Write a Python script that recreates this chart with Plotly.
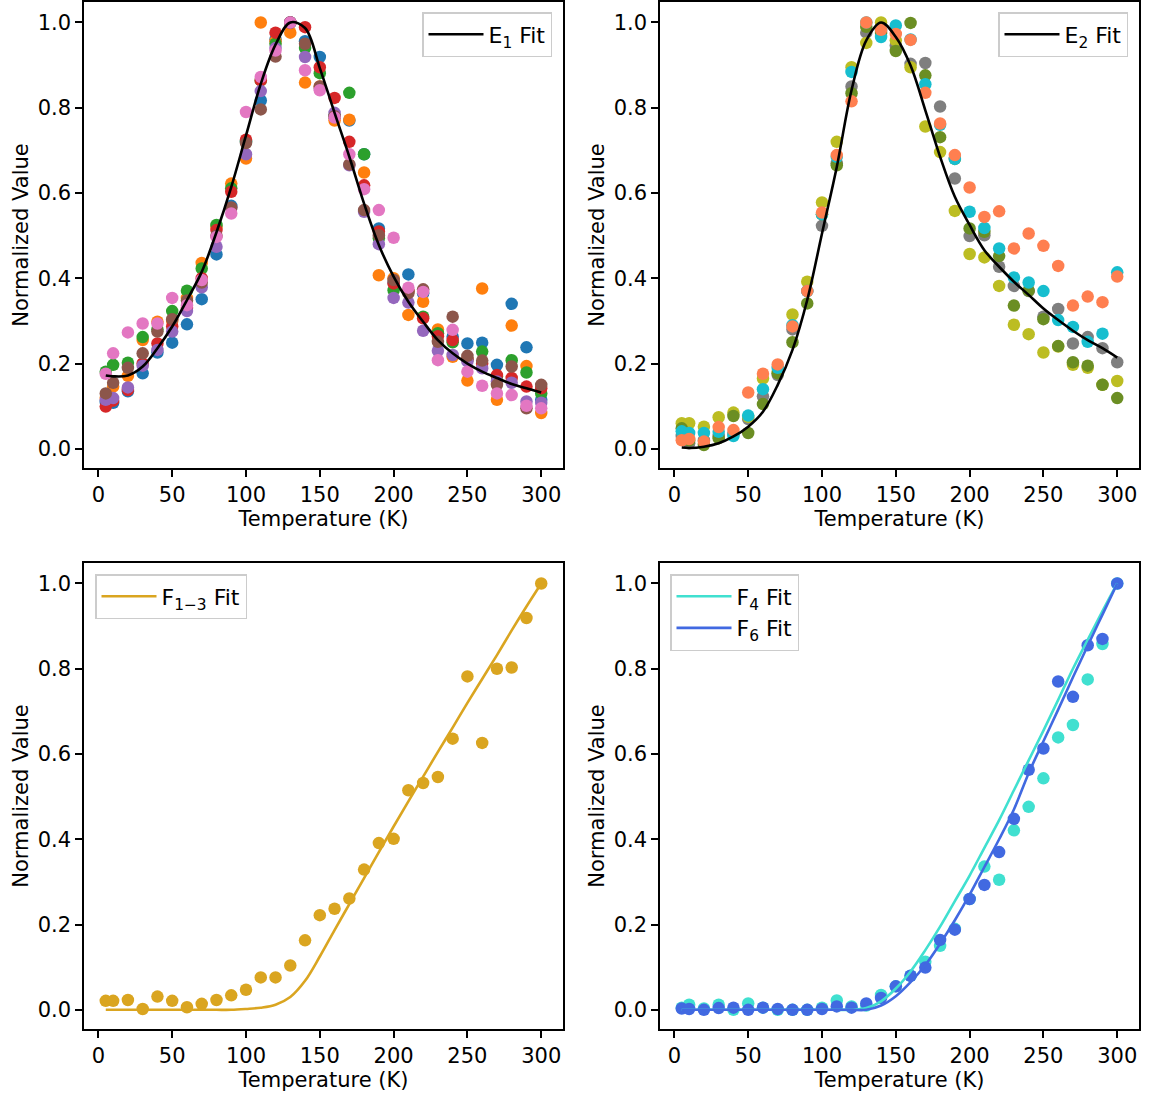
import plotly.graph_objects as go

# ---------------- data ----------------
T = [5, 10, 20, 30, 40, 50, 60, 70, 80, 90, 100, 110, 120, 130, 140, 150,
     160, 170, 180, 190, 200, 210, 220, 230, 240, 250, 260, 270, 280, 290, 300]

# Panel 1 (E1) series
e1_blue = [0.11, 0.108, 0.135, 0.177, 0.226, 0.249, 0.292, 0.351, 0.456, 0.57, 0.72, 0.817, 0.96, 1.0, 0.956, 0.919,
           0.78, 0.77, 0.691, 0.517, 0.39, 0.409, 0.365, 0.27, 0.263, 0.247, 0.249, 0.197, 0.34, 0.238, 0.115]
e1_orange = [0.12, 0.146, 0.171, 0.255, 0.298, 0.30, 0.354, 0.436, 0.52, 0.622, 0.681, 1.0, 0.956, 0.976, 0.859, 0.85,
             0.77, 0.772, 0.648, 0.407, 0.40, 0.314, 0.345, 0.28, 0.216, 0.16, 0.376, 0.115, 0.289, 0.194, 0.084]
e1_green = [0.181, 0.197, 0.202, 0.262, 0.28, 0.323, 0.371, 0.423, 0.525, 0.611, 0.72, 0.864, 0.95, 1.0, 0.94, 0.881,
            0.78, 0.835, 0.691, 0.494, 0.372, 0.37, 0.31, 0.271, 0.25, 0.21, 0.228, 0.17, 0.208, 0.179, 0.13]
e1_red = [0.099, 0.113, 0.138, 0.2, 0.247, 0.287, 0.33, 0.40, 0.513, 0.603, 0.725, 0.864, 0.976, 1.0, 0.989, 0.895,
          0.823, 0.72, 0.618, 0.51, 0.388, 0.37, 0.306, 0.264, 0.255, 0.21, 0.2, 0.173, 0.166, 0.146, 0.142]
e1_purple = [0.115, 0.119, 0.144, 0.195, 0.232, 0.275, 0.323, 0.379, 0.474, 0.565, 0.691, 0.839, 0.94, 1.0, 0.919, 0.845,
             0.788, 0.665, 0.556, 0.48, 0.354, 0.343, 0.277, 0.23, 0.22, 0.205, 0.189, 0.158, 0.155, 0.111, 0.108]
e1_brown = [0.13, 0.155, 0.19, 0.224, 0.275, 0.304, 0.348, 0.39, 0.50, 0.566, 0.717, 0.796, 0.92, 1.0, 0.95, 0.85,
            0.78, 0.667, 0.56, 0.501, 0.396, 0.365, 0.374, 0.251, 0.31, 0.218, 0.207, 0.15, 0.193, 0.095, 0.15]
e1_pink = [0.176, 0.224, 0.273, 0.294, 0.294, 0.354, 0.337, 0.396, 0.497, 0.552, 0.79, 0.872, 0.934, 1.0, 0.888, 0.841,
           0.777, 0.691, 0.609, 0.56, 0.495, 0.378, 0.368, 0.208, 0.279, 0.181, 0.148, 0.13, 0.126, 0.101, 0.095]

# Panel 2 (E2) series
e2_gray = [0.03, 0.013, 0.02, 0.03, 0.035, 0.07, 0.123, 0.173, 0.28, 0.37, 0.523, 0.67, 0.85, 0.976, 0.98, 0.946,
           0.903, 0.905, 0.803, 0.634, 0.499, 0.501, 0.427, 0.382, 0.37, 0.31, 0.328, 0.247, 0.262, 0.236, 0.203]
e2_olive = [0.06, 0.06, 0.052, 0.074, 0.085, 0.075, 0.165, 0.18, 0.315, 0.392, 0.578, 0.72, 0.895, 0.952, 1.0, 0.958,
            0.895, 0.756, 0.696, 0.558, 0.457, 0.449, 0.382, 0.291, 0.269, 0.226, 0.24, 0.197, 0.19, 0.15, 0.159]
e2_olivedrab = [0.048, 0.02, 0.009, 0.025, 0.077, 0.037, 0.105, 0.177, 0.25, 0.341, 0.55, 0.665, 0.834, 0.99, 0.975, 0.933,
                0.999, 0.876, 0.731, 0.68, 0.517, 0.509, 0.452, 0.336, 0.371, 0.304, 0.241, 0.203, 0.195, 0.15, 0.119]
e2_cyan = [0.041, 0.037, 0.037, 0.04, 0.03, 0.078, 0.14, 0.19, 0.29, 0.37, 0.55, 0.685, 0.884, 1.0, 0.966, 0.993,
           0.96, 0.855, 0.76, 0.68, 0.556, 0.518, 0.47, 0.402, 0.39, 0.37, 0.302, 0.286, 0.251, 0.27, 0.414]
e2_coral = [0.02, 0.023, 0.017, 0.051, 0.044, 0.132, 0.176, 0.198, 0.287, 0.37, 0.554, 0.689, 0.815, 1.0, 0.983, 0.973,
            0.959, 0.835, 0.763, 0.689, 0.613, 0.544, 0.557, 0.47, 0.505, 0.476, 0.429, 0.336, 0.357, 0.344, 0.404]

# Panel 3 (F1-3)
f13 = [0.021, 0.021, 0.023, 0.002, 0.031, 0.021, 0.006, 0.014, 0.023, 0.034, 0.047, 0.076, 0.076, 0.104, 0.163, 0.222,
       0.237, 0.261, 0.329, 0.391, 0.401, 0.515, 0.532, 0.546, 0.636, 0.782, 0.626, 0.80, 0.803, 0.919, 1.0]

# Panel 4 (F4, F6)
f4 = [0.005, 0.012, 0.003, 0.012, 0.0, 0.015, 0.005, 0.0, 0.0, 0.0, 0.005, 0.022, 0.008, 0.01, 0.035, 0.055,
      0.08, 0.113, 0.15, 0.19, 0.26, 0.336, 0.305, 0.421, 0.476, 0.543, 0.639, 0.668, 0.775, 0.858, 1.0]
f6 = [0.003, 0.002, 0.0, 0.004, 0.005, 0.0, 0.005, 0.002, 0.0, 0.0, 0.002, 0.008, 0.005, 0.015, 0.028, 0.055,
      0.08, 0.099, 0.164, 0.188, 0.26, 0.293, 0.37, 0.448, 0.563, 0.613, 0.77, 0.734, 0.855, 0.87, 1.0]

# Fit curves (at the same temperatures)
fit_T = T
e1_fit = [0.172, 0.170, 0.172, 0.193, 0.236, 0.287, 0.349, 0.415, 0.508, 0.614, 0.735, 0.856, 0.948, 1.0, 0.987, 0.893,
          0.788, 0.685, 0.575, 0.478, 0.404, 0.345, 0.298, 0.255, 0.224, 0.20, 0.181, 0.166, 0.152, 0.142, 0.132]
e2_fit = [0.003, 0.002, 0.005, 0.013, 0.029, 0.052, 0.087, 0.15, 0.232, 0.349, 0.505, 0.661, 0.841, 0.958, 1.0, 0.966,
          0.899, 0.794, 0.685, 0.591, 0.525, 0.466, 0.427, 0.392, 0.361, 0.329, 0.302, 0.277, 0.255, 0.236, 0.214]
f13_fit = [0.0, 0.0, 0.0, 0.0, 0.0, 0.0, 0.0, 0.0, 0.0, 0.0, 0.002, 0.005, 0.012, 0.030, 0.068, 0.125,
           0.187, 0.248, 0.309, 0.37, 0.43, 0.489, 0.547, 0.605, 0.662, 0.72, 0.776, 0.832, 0.89, 0.946, 1.0]
f4_fit = [0.0, 0.0, 0.0, 0.0, 0.0, 0.0, 0.0, 0.0, 0.0, 0.0, 0.0, 0.0, 0.0, 0.004, 0.02, 0.05,
          0.09, 0.14, 0.195, 0.255, 0.315, 0.38, 0.445, 0.515, 0.585, 0.655, 0.727, 0.80, 0.868, 0.935, 1.0]
f6_fit = [0.0, 0.0, 0.0, 0.0, 0.0, 0.0, 0.0, 0.0, 0.0, 0.0, 0.0, 0.0, 0.0, 0.0, 0.01, 0.032,
          0.065, 0.105, 0.155, 0.21, 0.27, 0.335, 0.40, 0.47, 0.555, 0.63, 0.704, 0.78, 0.854, 0.927, 1.0]

x_ticks = [0, 50, 100, 150, 200, 250, 300]
y_ticks = [0.0, 0.2, 0.4, 0.6, 0.8, 1.0]

# ---------------- figure ----------------
FONT = "DejaVu Sans"
FS = 21
MS = 12.5

fig = go.Figure()

def scatter(y, color, xa, ya):
    fig.add_trace(go.Scatter(x=T, y=y, mode="markers", xaxis=xa, yaxis=ya,
                             marker=dict(size=MS, color=color, line=dict(width=0)),
                             showlegend=False, hoverinfo="skip"))

def fitline(y, color, xa, ya, name, legend):
    fig.add_trace(go.Scatter(x=fit_T, y=y, mode="lines", xaxis=xa, yaxis=ya, name=name,
                             line=dict(color=color, width=2.6, shape="spline", smoothing=1.0),
                             legend=legend, showlegend=True))

for s, c in [(e1_blue, "#1f77b4"), (e1_orange, "#ff7f0e"), (e1_green, "#2ca02c"), (e1_red, "#d62728"),
             (e1_purple, "#9467bd"), (e1_brown, "#8c564b"), (e1_pink, "#e377c2")]:
    scatter(s, c, "x", "y")
fitline(e1_fit, "black", "x", "y", "E<sub>1</sub> Fit", "legend")

for s, c in [(e2_gray, "#7f7f7f"), (e2_olive, "#bcbd22"), (e2_olivedrab, "#6b8e23"),
             (e2_cyan, "#17becf"), (e2_coral, "#ff7f50")]:
    scatter(s, c, "x2", "y2")
fitline(e2_fit, "black", "x2", "y2", "E<sub>2</sub> Fit", "legend2")

scatter(f13, "#daa520", "x3", "y3")
fitline(f13_fit, "#daa520", "x3", "y3", "F<sub>1\u22123</sub> Fit", "legend3")

scatter(f4, "#40e0d0", "x4", "y4")
scatter(f6, "#4169e1", "x4", "y4")
fitline(f4_fit, "#40e0d0", "x4", "y4", "F<sub>4</sub> Fit", "legend4")
fitline(f6_fit, "#4169e1", "x4", "y4", "F<sub>6</sub> Fit", "legend4")

W, H = 1151, 1097
def xd(a, b):
    return [a / W, b / W]
def yd(top, bottom):
    return [1 - bottom / H, 1 - top / H]

common = dict(showline=True, linecolor="black", linewidth=1.5, mirror=True,
              ticks="outside", ticklen=7, tickwidth=1.5, tickcolor="black",
              showgrid=False, zeroline=False,
              tickfont=dict(family=FONT, size=FS, color="black"))

def xaxis(dom, anchor):
    return dict(common, domain=dom, anchor=anchor, range=[-9.75, 314.75],
                tickmode="array", tickvals=x_ticks,
                title=dict(text="Temperature (K)", font=dict(family=FONT, size=FS, color="black"), standoff=3))

def yaxis(dom, anchor):
    return dict(common, domain=dom, anchor=anchor, range=[-0.045, 1.048],
                tickmode="array", tickvals=y_ticks, tickformat=".1f",
                title=dict(text="Normalized Value", font=dict(family=FONT, size=FS, color="black"), standoff=3))

leg = dict(font=dict(family=FONT, size=22, color="black"), bgcolor="rgba(255,255,255,0.8)",
           bordercolor="#cccccc", borderwidth=1.5, yanchor="top", itemwidth=55,
           tracegroupgap=4)

fig.update_layout(
    width=W, height=H,
    margin=dict(l=0, r=0, t=0, b=0),
    paper_bgcolor="white", plot_bgcolor="white",
    font=dict(family=FONT, size=FS, color="black"),
    xaxis=xaxis(xd(84, 563), "y"), yaxis=yaxis(yd(2, 468), "x"),
    xaxis2=xaxis(xd(660, 1139), "y2"), yaxis2=yaxis(yd(2, 468), "x2"),
    xaxis3=xaxis(xd(84, 563), "y3"), yaxis3=yaxis(yd(563, 1029), "x3"),
    xaxis4=xaxis(xd(660, 1139), "y4"), yaxis4=yaxis(yd(563, 1029), "x4"),
    legend=dict(leg, x=552 / W, xanchor="right", y=1 - 12 / H),
    legend2=dict(leg, x=1128 / W, xanchor="right", y=1 - 12 / H),
    legend3=dict(leg, x=95 / W, xanchor="left", y=1 - 574 / H),
    legend4=dict(leg, x=670 / W, xanchor="left", y=1 - 574 / H),
    showlegend=True,
)

fig.write_html("out.html")
